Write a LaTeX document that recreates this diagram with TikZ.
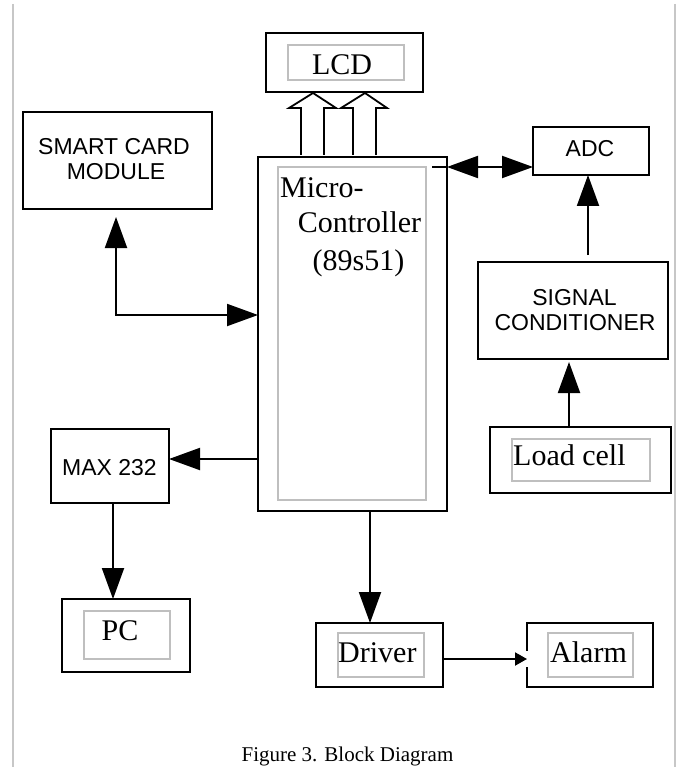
\documentclass[tikz,border=0pt]{standalone}
\usepackage{fontspec}
\setmainfont{Liberation Serif}
\newfontfamily\sansf{Liberation Sans}
\usetikzlibrary{arrows.meta}
\begin{document}
\begin{tikzpicture}[x=1pt,y=-1pt,
  box/.style={draw=black, line width=2pt, inner sep=0pt, outer sep=0pt},
  ibox/.style={draw=black!25, line width=1.5pt, inner sep=0pt, outer sep=0pt},
  sertxt/.style={font=\fontsize{30}{36}\selectfont, inner sep=0pt},
  santxt/.style={font=\sansf\fontsize{23}{25}\selectfont, inner sep=0pt},
  captxt/.style={font=\fontsize{21}{24}\selectfont, inner sep=0pt},
  arr/.style={line width=2pt, -{Triangle[length=31pt,width=22pt]}},
  dbl/.style={line width=2pt, {Triangle[length=31pt,width=22pt]}-{Triangle[length=31pt,width=22pt]}},
  smallarr/.style={line width=2pt, -{Triangle[length=12pt,width=13pt]}},
  hollow/.style={line width=1.8pt, line join=miter, fill=white},
  sideline/.style={draw=black!22, line width=2pt}
]
\fill[white] (0,0) rectangle (678,767);
\useasboundingbox (0,0) rectangle (678,767);

% side lines
\draw[sideline] (13,4) -- (13,767);
\draw[sideline] (675,4) -- (675,767);

% LCD
\node[box, minimum width=157pt, minimum height=59pt] (lcd) at (344.5,62.5) {};
\node[ibox, minimum width=116pt, minimum height=35pt] (lcdi) at (346,62.5) {};
\node[sertxt, anchor=base] (lcdt) at (342,75) {LCD};

% Smart card
\node[box, minimum width=189pt, minimum height=97pt] (sc) at (117.5,160.5) {};
\node[santxt, anchor=base] (sc1) at (114,155) {SMART CARD};
\node[santxt, anchor=base] (sc2) at (116,180) {MODULE};

% Microcontroller
\node[box, minimum width=189pt, minimum height=354pt] (mc) at (352.5,334) {};
\node[ibox, minimum width=148pt, minimum height=333pt] (mci) at (352,333.5) {};
\node[sertxt, anchor=base west] (m1) at (280,197) {Micro-};
\node[sertxt, anchor=base] (m2) at (359.5,233) {Controller};
\node[sertxt, anchor=base] (m3) at (358.5,270) {(89s51)};

% ADC
\node[box, minimum width=116pt, minimum height=48pt] (adc) at (591,151) {};
\node[santxt, anchor=base] (adct) at (590,157) {ADC};

% Signal conditioner
\node[box, minimum width=190pt, minimum height=97pt] (sig) at (573,310.5) {};
\node[santxt, anchor=base] (sig1) at (574.5,305) {SIGNAL};
\node[santxt, anchor=base] (sig2) at (575,330) {CONDITIONER};

% Load cell
\node[box, minimum width=181pt, minimum height=66pt] (load) at (580.5,460) {};
\node[ibox, minimum width=138pt, minimum height=42pt] (loadi) at (581,460) {};
\node[sertxt, anchor=base west] (loadt) at (513,465) {Load cell};

% MAX 232
\node[box, minimum width=118pt, minimum height=74pt] (max) at (110,466) {};
\node[santxt, anchor=base] (maxt) at (109.5,475) {MAX 232};

% PC
\node[box, minimum width=128pt, minimum height=73pt] (pc) at (126,635.5) {};
\node[ibox, minimum width=86pt, minimum height=48pt] (pci) at (127,635) {};
\node[sertxt, anchor=base] (pct) at (120,640) {PC};

% Driver
\node[box, minimum width=127pt, minimum height=64pt] (drv) at (379.5,655) {};
\node[ibox, minimum width=86pt, minimum height=44pt] (drvi) at (381,655) {};
\node[sertxt, anchor=base west] (drvt) at (338,662) {Driver};

% Alarm
\node[box, minimum width=126pt, minimum height=64pt] (alm) at (590,655) {};
\node[ibox, minimum width=85pt, minimum height=44pt] (almi) at (590.5,655) {};
\node[sertxt, anchor=base west] (almt) at (550,662) {Alarm};

% Caption
\node[captxt, anchor=base] (cap) at (347.5,761) {Figure 3. Block Diagram};

% hollow arrows to LCD
\draw[hollow] (301,155) -- (301,108) -- (289,108) -- (313,93) -- (336,108) -- (324,108) -- (324,155);
\draw[hollow] (353,155) -- (353,108) -- (341,108) -- (365,93) -- (387,108) -- (376,108) -- (376,155);

% coordinates for connectors
\coordinate (scc) at (116,315);
\coordinate (mxy) at (0,459);
\coordinate (mpx) at (113,0);
\coordinate (mdx) at (370,0);
\coordinate (day) at (0,659);
\coordinate (lsx) at (569,0);
\coordinate (sax) at (588,0);
\coordinate (may) at (0,167);
\coordinate (mst) at (432,167);

% connectors
\draw[dbl, shorten <=8pt] (sc.south -| scc) |- (mc.west |- scc);
\draw[arr] (mc.west |- mxy) -- (max.east |- mxy);
\draw[arr] (max.south -| mpx) -- (pc.north -| mpx);
\draw[arr] (mc.south -| mdx) -- (drv.north -| mdx);
\fill[white] (523,651) rectangle (531,667);
\draw[smallarr] (drv.east |- day) -- (alm.west |- day);
\draw[arr, shorten >=3pt] (load.north -| lsx) -- (sig.south -| lsx);
\draw[arr, shorten <=7pt] (sig.north -| sax) -- (adc.south -| sax);
\draw[line width=2pt] (mst) -- (mc.east |- may);
\draw[dbl] (mc.east |- may) -- (adc.west |- may);
\end{tikzpicture}
\end{document}
